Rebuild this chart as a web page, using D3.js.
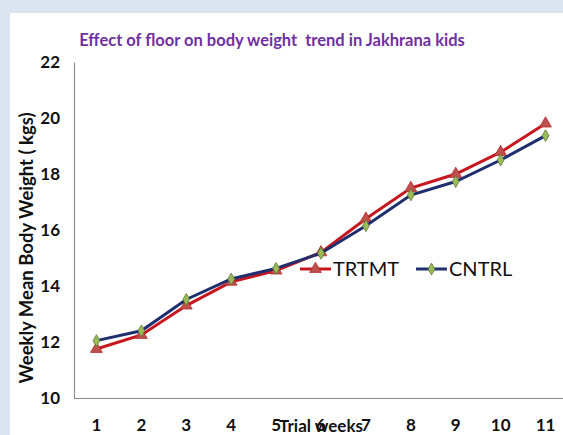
<!DOCTYPE html>
<html>
<head>
<meta charset="utf-8">
<script src="https://cdn.jsdelivr.net/npm/d3@7"></script>
<style>
  body { margin: 0; background: #dbe5f1; }
  svg { display: block; }
</style>
</head>
<body>
<div id="chart"></div>
<script>
const weeks = ["1", "2", "3", "4", "5", "6", "7", "8", "9", "10", "11"];
const trtmt = [11.75, 12.25, 13.3, 14.15, 14.55, 15.2, 16.4, 17.5, 18.0, 18.78, 19.8];
const cntrl = [12.05, 12.4, 13.52, 14.25, 14.63, 15.17, 16.15, 17.25, 17.73, 18.5, 19.37];
const yTicks = [10, 12, 14, 16, 18, 20, 22];

var width = 563,
  height = 435;

var svg = d3.select('#chart').append('svg')
  .attr('width', width)
  .attr('height', height);

// white chart panel
svg.append('rect')
  .attr('x', 10).attr('y', 13)
  .attr('width', width - 10).attr('height', height - 13)
  .attr('fill', '#fff');

var x = d3.scaleBand()
  .domain(weeks)
  .range([74, 568]);
var y = d3.scaleLinear()
  .domain([10, 22])
  .range([398, 62]);

var font = 'Lato, "Open Sans", sans-serif';

// title
svg.append('text')
  .attr('x', 272).attr('y', 46)
  .attr('text-anchor', 'middle')
  .attr('font-family', font)
  .attr('font-weight', 'bold')
  .attr('font-size', 16.5)
  .attr('fill', '#7030a0')
  .style('white-space', 'pre')
  .text('Effect of floor on body weight  trend in Jakhrana kids');

// axes
var yAxis = svg.append('g')
  .attr('transform', 'translate(74,0)')
  .call(d3.axisLeft(y).tickValues(yTicks).tickSize(0).tickPadding(14).tickFormat(d3.format('d')));
var xAxis = svg.append('g')
  .attr('transform', 'translate(0,398.5)')
  .call(d3.axisBottom(x).tickSize(0).tickPadding(20));

[yAxis, xAxis].forEach(function(a) {
  a.select('.domain').attr('stroke', '#8c8c8c').attr('stroke-width', 1.2);
  a.selectAll('text')
    .attr('font-family', font)
    .attr('font-weight', 'bold')
    .attr('font-size', 17)
    .attr('fill', '#111');
});
xAxis.select('.domain').attr('d', 'M74,0H563');

// axis titles
svg.append('text')
  .attr('x', 321).attr('y', 432)
  .attr('text-anchor', 'middle')
  .attr('font-family', font)
  .attr('font-weight', 'bold')
  .attr('font-size', 17)
  .attr('fill', '#111')
  .text('Trial weeks');

svg.append('text')
  .attr('transform', 'translate(33,248) rotate(-90)')
  .attr('text-anchor', 'middle')
  .attr('font-family', font)
  .attr('font-weight', 'bold')
  .attr('font-size', 18.5)
  .attr('fill', '#111')
  .text('Weekly Mean Body Weight ( kgs)');

var line = d3.line()
  .x(function(d, i) { return x(weeks[i]) + x.bandwidth() / 2; })
  .y(function(d) { return y(d); });

var series = [
  { name: 'TRTMT', values: trtmt, stroke: '#c8161e', marker: d3.symbolTriangle, mFill: '#c0504d', mStroke: '#b22a2a', lx: 300 },
  { name: 'CNTRL', values: cntrl, stroke: '#1f2f6e', marker: d3.symbolDiamond, mFill: '#9bbb59', mStroke: '#5a7a32', lx: 416 }
];

series.forEach(function(s) {
  svg.append('path')
    .datum(s.values)
    .attr('fill', 'none')
    .attr('stroke', s.stroke)
    .attr('stroke-width', 3)
    .attr('d', line);

  svg.selectAll(null)
    .data(s.values)
    .enter().append('path')
    .attr('transform', function(d, i) {
      return 'translate(' + (x(weeks[i]) + x.bandwidth() / 2) + ',' + y(d) + ')';
    })
    .attr('d', d3.symbol().type(s.marker).size(s.marker === d3.symbolTriangle ? 60 : 40))
    .attr('fill', s.mFill)
    .attr('stroke', s.mStroke)
    .attr('stroke-width', 0.8);

  // legend
  var lg = svg.append('g').attr('transform', 'translate(' + s.lx + ',269)');
  lg.append('line')
    .attr('x1', 0).attr('x2', 31)
    .attr('stroke', s.stroke).attr('stroke-width', 3);
  lg.append('path')
    .attr('transform', 'translate(15.5,0)')
    .attr('d', d3.symbol().type(s.marker).size(s.marker === d3.symbolTriangle ? 60 : 40))
    .attr('fill', s.mFill)
    .attr('stroke', s.mStroke)
    .attr('stroke-width', 0.8);
  lg.append('text')
    .attr('x', 33).attr('y', 7)
    .attr('font-family', font)
    .attr('font-size', 20)
    .attr('fill', '#111')
    .text(s.name);
});
</script>
</body>
</html>
